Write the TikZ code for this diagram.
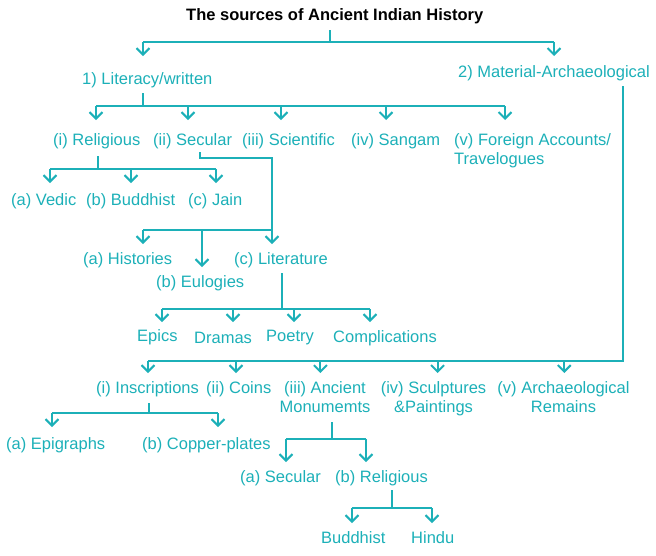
\documentclass[tikz,border=0pt]{standalone}
\usepackage{fontspec}
\setmainfont{Liberation Sans}
\usetikzlibrary{calc,arrows.meta}
\definecolor{srcteal}{RGB}{28,176,184}

\begin{document}
\begin{tikzpicture}[
    x=1pt, y=-1pt,
    font=\fontsize{16.5}{19}\selectfont,
    lbl/.style={anchor=base west, inner sep=0pt, text=srcteal, text height=12pt, text depth=3.5pt},
    twoline/.style={anchor=base, inner sep=0pt, text=srcteal},
    line/.style={draw=srcteal, line width=2pt},
    arrow/.style={line, -{Straight Barb[length=6.5pt, width=13pt]}}
]
\useasboundingbox (0,0) rectangle (656,555);

% bus heights
\coordinate (b0) at (0,42);
\coordinate (b1) at (0,106);
\coordinate (b2) at (0,169);
\coordinate (b3) at (0,230);
\coordinate (b4) at (0,309);
\coordinate (b5) at (0,361);
\coordinate (b6) at (0,413);
\coordinate (b7) at (0,439);
\coordinate (b8) at (0,508);

\node[lbl, text=black, font=\fontsize{16.5}{19}\selectfont\bfseries] (title) at (186,20) {The sources of Ancient Indian History};
\node[lbl] (lit) at (82,84) {1) Literacy/written};
\node[lbl] (mat) at (458,77) {2) Material-Archaeological};

\node[lbl] (rel) at (53,145) {(i) Religious};
\node[lbl] (sec) at (153,145) {(ii) Secular};
\node[lbl] (sci) at (242,145) {(iii) Scientific};
\node[lbl] (san) at (351,145) {(iv) Sangam};
\node[twoline, anchor=base west] (foreign) at (454,145) {\begin{tabular}[t]{@{}l@{}}(v) Foreign Accounts/\\Travelogues\end{tabular}};

\node[lbl] (vedic) at (11,205) {(a) Vedic};
\node[lbl] (budd) at (86,205) {(b) Buddhist};
\node[lbl] (jain) at (188,205) {(c) Jain};

\node[lbl] (hist) at (83,264) {(a) Histories};
\node[lbl] (eul) at (156,287) {(b) Eulogies};
\node[lbl] (lite) at (234,264) {(c) Literature};

\node[lbl] (epics) at (137,341) {Epics};
\node[lbl] (dramas) at (194,343) {Dramas};
\node[lbl] (poetry) at (266,341) {Poetry};
\node[lbl] (compl) at (333,342) {Complications};

\node[lbl] (insc) at (96,393) {(i) Inscriptions};
\node[lbl] (coins) at (206,393) {(ii) Coins};
\node[twoline] (anc) at (325,393) {\begin{tabular}[t]{@{}c@{}}(iii) Ancient\\Monumemts\end{tabular}};
\node[twoline] (sculp) at (433.5,393) {\begin{tabular}[t]{@{}c@{}}(iv) Sculptures\\\&Paintings\end{tabular}};
\node[twoline] (arch) at (563.5,393) {\begin{tabular}[t]{@{}c@{}}(v) Archaeological\\Remains\end{tabular}};

\node[lbl] (epig) at (6,449) {(a) Epigraphs};
\node[lbl] (copper) at (142,449) {(b) Copper-plates};

\node[lbl] (msec) at (240,482) {(a) Secular};
\node[lbl] (mrel) at (335,482) {(b) Religious};

\node[lbl] (mbud) at (321,543) {Buddhist};
\node[lbl] (hindu) at (411,543) {Hindu};

% title
\draw[line] ($(title.south west)+(144,6.5)$) -- ($(b0 -| title.west)+(144,0)$);
\draw[line] ($(b0 -| lit.west)+(61,0)$) -- ($(b0 -| mat.west)+(96,0)$);
\foreach \n/\dx in {lit/61, mat/96}
  \draw[arrow] ($(b0 -| \n.west)+(\dx,0)$) -- ++(0,14);

% literary sources
\draw[line] ($(lit.south west)+(61,5.5)$) -- ($(b1 -| lit.west)+(61,0)$);
\draw[line] ($(b1 -| rel.west)+(43,0)$) -- ($(b1 -| foreign.west)+(51,0)$);
\foreach \n/\dx in {rel/43, sec/35, sci/39, san/35, foreign/51}
  \draw[arrow] ($(b1 -| \n.west)+(\dx,0)$) -- ++(0,14);

% religious
\draw[line] ($(rel.south west)+(45,7.5)$) -- ($(b2 -| rel.west)+(45,0)$);
\draw[line] ($(b2 -| vedic.west)+(39,0)$) -- ($(b2 -| jain.west)+(28,0)$);
\foreach \n/\dx in {vedic/39, budd/45, jain/28}
  \draw[arrow] ($(b2 -| \n.west)+(\dx,0)$) -- ++(0,14);

% secular
\draw[arrow] ($(sec.south west)+(47,3.5)$) -- ++(0,6) -| ($(lite.west |- b3)+(38,14)$);
\draw[line] ($(b3 -| hist.west)+(60,0)$) -- ($(b3 -| lite.west)+(38,0)$);
\draw[arrow] ($(b3 -| hist.west)+(60,0)$) -- ++(0,14);
\draw[arrow] ($(b3 -| eul.west)+(46,0)$) -- ++(0,37);

% literature
\draw[line] ($(lite.south west)+(48,5.5)$) -- ($(b4 -| lite.west)+(48,0)$);
\draw[line] ($(b4 -| epics.west)+(25,0)$) -- ($(b4 -| compl.west)+(37,0)$);
\foreach \n/\dx in {epics/25, dramas/39, poetry/28, compl/37}
  \draw[arrow] ($(b4 -| \n.west)+(\dx,0)$) -- ++(0,13);

% material sources
\draw[line] ($(mat.south west)+(165,5.5)$) |- ($(b5 -| insc.west)+(52,0)$);
\foreach \n/\dx in {insc/52, coins/30, anc/41, sculp/57, arch/67}
  \draw[arrow] ($(b5 -| \n.west)+(\dx,0)$) -- ++(0,12);

% inscriptions
\draw[line] ($(insc.south west)+(53,6.5)$) -- ($(b6 -| insc.west)+(53,0)$);
\draw[line] ($(b6 -| epig.west)+(46,0)$) -- ($(b6 -| copper.west)+(76,0)$);
\foreach \n/\dx in {epig/46, copper/76}
  \draw[arrow] ($(b6 -| \n.west)+(\dx,0)$) -- ++(0,14);

% monuments
\draw[line] ($(anc.base west)+(53,29)$) -- ($(b7 -| anc.west)+(53,0)$);
\draw[line] ($(b7 -| msec.west)+(46,0)$) -- ($(b7 -| mrel.west)+(31,0)$);
\foreach \n/\dx in {msec/46, mrel/31}
  \draw[arrow] ($(b7 -| \n.west)+(\dx,0)$) -- ++(0,23);

% religious monuments
\draw[line] ($(mrel.south west)+(57,4.5)$) -- ($(b8 -| mrel.west)+(57,0)$);
\draw[line] ($(b8 -| mbud.west)+(31,0)$) -- ($(b8 -| hindu.west)+(21,0)$);
\foreach \n/\dx in {mbud/31, hindu/21}
  \draw[arrow] ($(b8 -| \n.west)+(\dx,0)$) -- ++(0,15);
\end{tikzpicture}
\end{document}
